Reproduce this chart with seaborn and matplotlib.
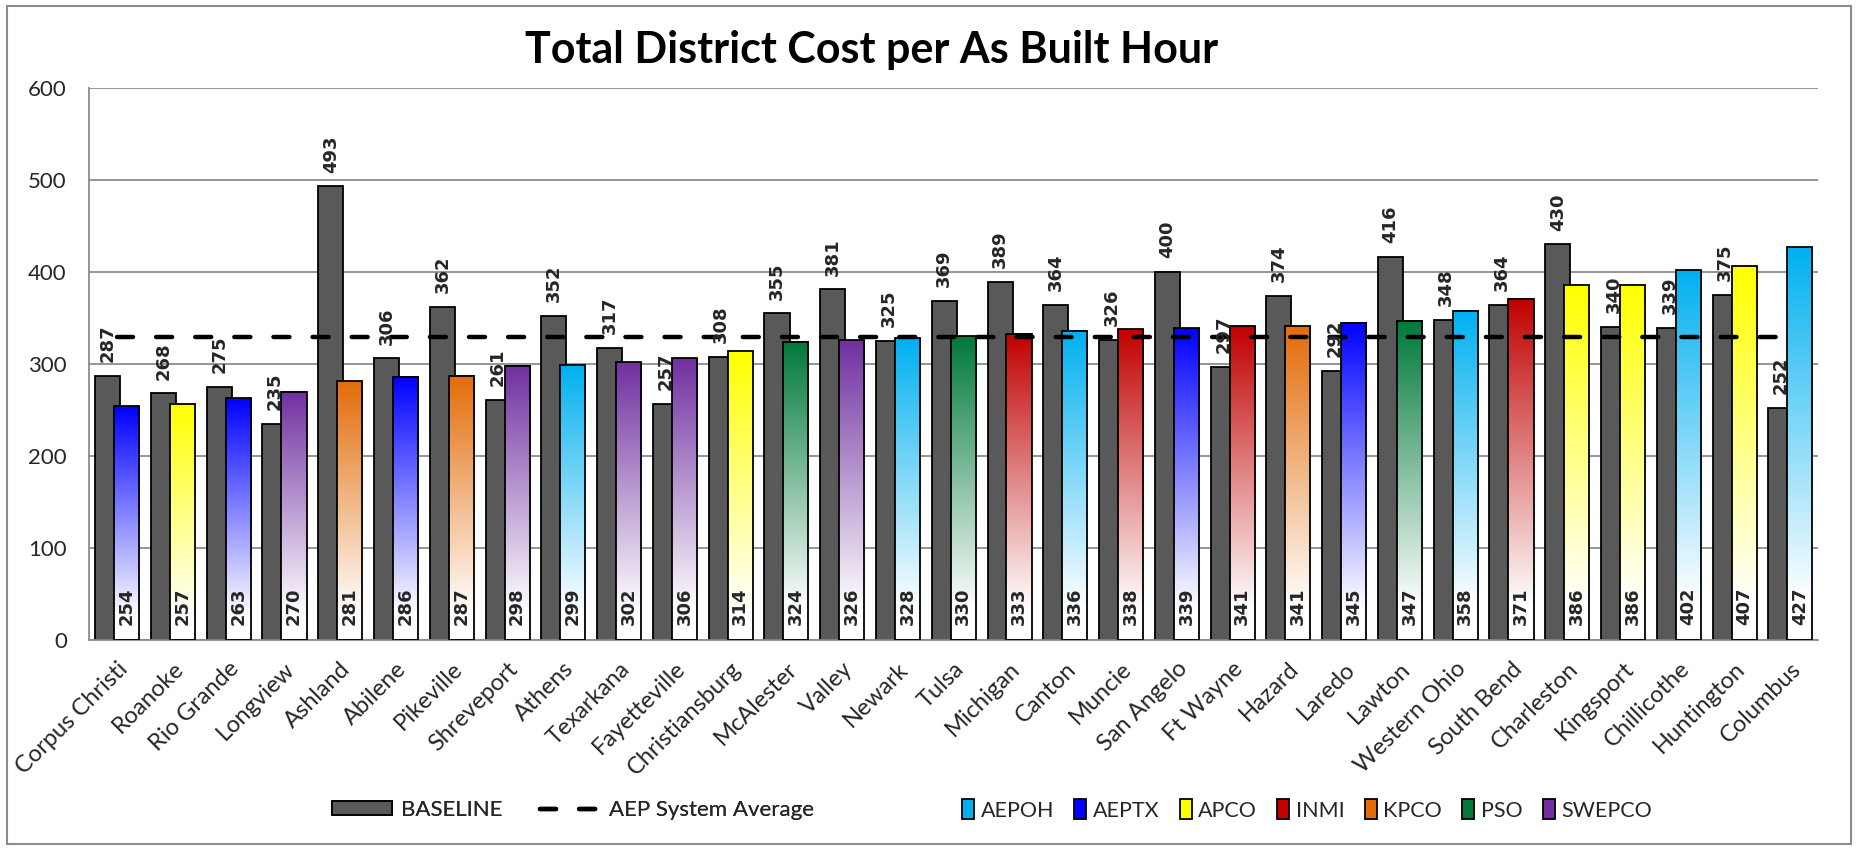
import numpy as np
import pandas as pd
import matplotlib
matplotlib.use("Agg")
import matplotlib.pyplot as plt
import seaborn as sns
from matplotlib.colors import to_rgb
from matplotlib.patches import Patch, Rectangle
from matplotlib.lines import Line2D

districts = ["Corpus Christi", "Roanoke", "Rio Grande", "Longview", "Ashland", "Abilene",
             "Pikeville", "Shreveport", "Athens", "Texarkana", "Fayetteville", "Christiansburg",
             "McAlester", "Valley", "Newark", "Tulsa", "Michigan", "Canton", "Muncie",
             "San Angelo", "Ft Wayne", "Hazard", "Laredo", "Lawton", "Western Ohio",
             "South Bend", "Charleston", "Kingsport", "Chillicothe", "Huntington", "Columbus"]
baseline = [287, 268, 275, 235, 493, 306, 362, 261, 352, 317, 257, 308, 355, 381, 325, 369,
            389, 364, 326, 400, 297, 374, 292, 416, 348, 364, 430, 340, 339, 375, 252]
current = [254, 257, 263, 270, 281, 286, 287, 298, 299, 302, 306, 314, 324, 326, 328, 330,
           333, 336, 338, 339, 341, 341, 345, 347, 358, 371, 386, 386, 402, 407, 427]
company = ["AEPTX", "APCO", "AEPTX", "SWEPCO", "KPCO", "AEPTX", "KPCO", "SWEPCO", "AEPOH",
           "SWEPCO", "SWEPCO", "APCO", "PSO", "SWEPCO", "AEPOH", "PSO", "INMI", "AEPOH",
           "INMI", "AEPTX", "INMI", "KPCO", "AEPTX", "PSO", "AEPOH", "INMI", "APCO", "APCO",
           "AEPOH", "APCO", "AEPOH"]
system_avg = 329

companies = ["AEPOH", "AEPTX", "APCO", "INMI", "KPCO", "PSO", "SWEPCO"]
company_colors = {"AEPOH": "#00B0F0", "AEPTX": "#0000FF", "APCO": "#FFFF00",
                  "INMI": "#C00000", "KPCO": "#E36C09", "PSO": "#00793A", "SWEPCO": "#7030A0"}

df = pd.DataFrame({"district": districts, "baseline": baseline,
                   "current": current, "company": company})

sns.set_style("white")
plt.rcParams["font.family"] = ["Lato", "DejaVu Sans"]

fig = plt.figure(figsize=(18.6, 8.48), dpi=100)
ax = fig.add_axes([89 / 1860, 1 - 640 / 848, (1818 - 89) / 1860, (640 - 88) / 848])

n = len(districts)
bar_w = 0.45

sns.barplot(data=df, x="district", y="baseline", order=districts, color="#595959",
            edgecolor="black", linewidth=1.3, width=bar_w, errorbar=None, saturation=1, ax=ax)
gray_patches = list(ax.patches)
sns.barplot(data=df, x="district", y="current", order=districts, color="white",
            edgecolor="black", linewidth=1.3, width=bar_w, errorbar=None, saturation=1, ax=ax)
cur_patches = list(ax.patches)[len(gray_patches):]

for i, p in enumerate(gray_patches):
    p.set_x(i - 0.39)
    p.set_zorder(2)

# colour at the top fading to white at the bottom
t = np.linspace(0, 1, 300)[:, None, None]
for i, p in enumerate(cur_patches):
    p.set_x(i - 0.05)
    x0, w, h = p.get_x(), p.get_width(), p.get_height()
    rgb = np.array(to_rgb(company_colors[company[i]]))
    mix = np.clip((1 - t) / 0.9, 0, 1)
    img = (1 - mix) * rgb + mix * np.ones(3)
    ax.imshow(img, extent=[x0, x0 + w, 0, h], origin="lower", aspect="auto",
              zorder=2.5, interpolation="bilinear")
    p.set_facecolor("none")
    p.set_zorder(2.6)

avg_ls = (0, (3.6, 5.2))
ax.plot(np.arange(n), [system_avg] * n, color="black", lw=3.2, ls=avg_ls,
        dash_capstyle="round", zorder=3)

lab_font = dict(fontsize=13, fontweight="bold", fontfamily=["DejaVu Sans"])
for i in range(n):
    ax.annotate(str(baseline[i]), (i - 0.39 + bar_w / 2, baseline[i]), xytext=(0, 10),
                textcoords="offset points", rotation=90, ha="center", va="bottom",
                zorder=4, **lab_font)
    ax.annotate(str(current[i]), (i - 0.05 + bar_w / 2, 0), xytext=(0, 11),
                textcoords="offset points", rotation=90, ha="center", va="bottom",
                zorder=4, **lab_font)

ax.set_xlim(-0.5, n - 0.5)
ax.set_ylim(0, 600)
ax.set_yticks(range(0, 601, 100))
ax.yaxis.grid(True, color="#8c8c8c", lw=1.3)
ax.set_axisbelow(True)
ax.set_xlabel("")
ax.set_ylabel("")
for s in ["top", "right"]:
    ax.spines[s].set_visible(False)
for s in ["left", "bottom"]:
    ax.spines[s].set_color("#8c8c8c")
    ax.spines[s].set_linewidth(1.3)

ax.set_xticks(np.arange(n))
ax.set_xticklabels(districts, rotation=45, ha="right", rotation_mode="anchor", fontsize=17)
ax.set_xticks(np.arange(n + 1) - 0.5, minor=True)
ax.tick_params(axis="x", which="major", length=0, pad=13)
ax.tick_params(axis="x", which="minor", length=6, width=1.3, color="#8c8c8c", direction="out")
ax.tick_params(axis="y", length=5, width=1.3, color="#8c8c8c", direction="out",
               labelsize=16, pad=11)

fig.text(872 / 1860, 1 - 50 / 848, "Total District Cost per As Built Hour",
         ha="center", va="center", fontsize=31, fontweight="bold", color="black")

h1 = [Patch(facecolor="#595959", edgecolor="black", lw=1.3),
      Line2D([0], [0], color="black", lw=3.2, ls=avg_ls, dash_capstyle="round")]
leg1 = fig.legend(h1, ["BASELINE", "AEP System Average"], loc="center",
                  bbox_to_anchor=(573 / 1860, 1 - 810 / 848), ncol=2, frameon=False,
                  fontsize=16, handlelength=2.7, handleheight=0.6, columnspacing=1.7,
                  handletextpad=0.4)
h2 = [Patch(facecolor=company_colors[c], edgecolor="black", lw=1.3) for c in companies]
fig.legend(h2, companies, loc="center", bbox_to_anchor=(1307 / 1860, 1 - 810 / 848),
           ncol=7, frameon=False, fontsize=15.5, handlelength=0.55, handleheight=1.0,
           columnspacing=0.95, handletextpad=0.3)
fig.add_artist(leg1)

fig.add_artist(Rectangle((7 / 1860, 4 / 848), 1844 / 1860, 838 / 848, transform=fig.transFigure,
                         fill=False, edgecolor="#8c8c8c", lw=1.5))

fig.savefig("out.png", dpi=100)
